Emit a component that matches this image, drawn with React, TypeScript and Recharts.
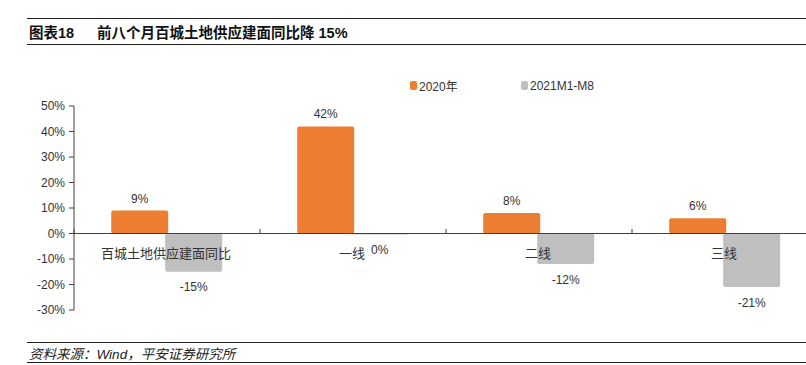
import React from "react";
import { BarChart, Bar, XAxis, YAxis, ReferenceLine, LabelList } from "recharts";

const categories = ["百城土地供应建面同比", "一线", "二线", "三线"];
const series2020 = [9, 42, 8, 6];
const series2021 = [-15, -0.4, -12, -21];
const yTicks = [-30, -20, -10, 0, 10, 20, 30, 40, 50];

const data = categories.map((name, i) => ({ name, y2020: series2020[i], y2021: series2021[i] }));

const FONT = "'Liberation Sans', Arial, 'Noto Sans CJK SC', sans-serif";
const ORANGE = "#ED7D31";
const GRAY = "#BFBFBF";
const TEXT = "#333";

const pct = (v: any) => `${Math.round(Number(v))}%`;

function CategoryTick(props: any) {
  const { x, y, payload } = props;
  return (
    <g>
      <line x1={x - 93} x2={x - 93} y1={y - 89} y2={y - 84} stroke="#404040" />
      <text x={x - 1} y={y - 65} textAnchor="middle" dominantBaseline="central" fontSize={13} fill={TEXT} fontFamily={FONT}>
        {payload.value}
      </text>
    </g>
  );
}

function LegendBox() {
  const items = [
    { label: "2020年", color: ORANGE, w: 111 },
    { label: "2021M1-M8", color: GRAY, w: 120 },
  ];
  return (
    <div style={{ position: "absolute", left: 410, top: 77, display: "flex", fontFamily: FONT, fontSize: 12, color: TEXT }}>
      {items.map((it) => (
        <div key={it.label} style={{ display: "flex", alignItems: "center", width: it.w }}>
          <span style={{ display: "inline-block", width: 7, height: 9, background: it.color, borderRadius: 2, marginRight: 2 }} />
          <span>{it.label}</span>
        </div>
      ))}
    </div>
  );
}

export default function App() {
  return (
    <div style={{ position: "absolute", left: 0, top: 0, width: 806, height: 365, overflow: "hidden", background: "#fff", fontFamily: FONT }}>
      <div
        style={{
          position: "absolute",
          left: 27,
          top: 18,
          width: 779,
          height: 25,
          borderTop: "1.5px solid #222",
          borderBottom: "1px solid #222",
          display: "flex",
          alignItems: "center",
          fontSize: 14.5,
          fontWeight: "bold",
          color: "#111",
        }}
      >
        <span style={{ marginLeft: 2, width: 68 }}>图表18</span>
        <span>前八个月百城土地供应建面同比降 15%</span>
      </div>
      <div style={{ position: "absolute", left: 0, top: 0 }}>
        <BarChart
          width={830}
          height={330}
          data={data}
          margin={{ top: 106, right: 12, bottom: 0, left: 0 }}
          barCategoryGap="20%"
          barGap={-3}
        >
          <XAxis dataKey="name" axisLine={false} tickLine={false} tick={<CategoryTick />} height={20} interval={0} />
          <YAxis
            domain={[-30, 50]}
            ticks={yTicks}
            tickFormatter={pct}
            width={74}
            tickSize={5}
            tickMargin={4}
            axisLine={{ stroke: "#404040" }}
            tickLine={{ stroke: "#404040" }}
            tick={{ fill: TEXT, fontSize: 12, fontFamily: FONT }}
            interval={0}
          />
          <Bar dataKey="y2020" fill={ORANGE} radius={[2, 2, 2, 2]} isAnimationActive={false}>
            <LabelList dataKey="y2020" position="top" offset={8} formatter={pct} fill={TEXT} fontSize={12} fontFamily={FONT} />
          </Bar>
          <Bar dataKey="y2021" fill={GRAY} radius={[2, 2, 2, 2]} isAnimationActive={false}>
            <LabelList dataKey="y2021" position="top" offset={11} formatter={pct} fill={TEXT} fontSize={12} fontFamily={FONT} />
          </Bar>
          <ReferenceLine y={0} stroke="#404040" strokeWidth={1} ifOverflow="visible" />
        </BarChart>
      </div>
      <LegendBox />
      <div
        style={{
          position: "absolute",
          left: 27,
          top: 342,
          width: 779,
          height: 19,
          borderTop: "1.5px solid #222",
          borderBottom: "1px solid #222",
          display: "flex",
          alignItems: "center",
          fontSize: 13.5,
          fontStyle: "italic",
          color: "#222",
        }}
      >
        <span style={{ marginLeft: 2 }}>资料来源：Wind，平安证券研究所</span>
      </div>
    </div>
  );
}
